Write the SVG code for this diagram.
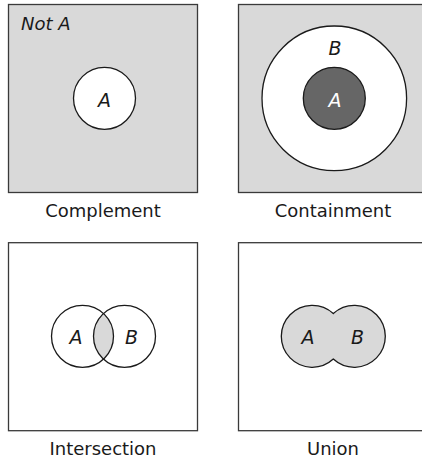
<svg xmlns="http://www.w3.org/2000/svg" width="422" height="463" viewBox="0 0 422 463">
<style>
.box{stroke:#3a3a3a;stroke-width:1.3}
.grey{fill:#d9d9d9}
.white{fill:#ffffff}
.c{stroke:#1a1a1a;stroke-width:1.3}
.lbl{font-family:"DejaVu Sans",sans-serif;font-size:18px;fill:#1a1a1a;text-anchor:middle}
.it{font-family:"DejaVu Sans",sans-serif;font-size:19px;font-style:italic;fill:#1a1a1a;text-anchor:middle}
</style>
<rect width="422" height="463" fill="#ffffff"/>
<g id="complement">
<rect class="box grey" x="8.5" y="4.5" width="189" height="188"/>
<text class="it" x="21" y="29.5" style="text-anchor:start;font-size:18px">Not A</text>
<circle class="c white" cx="104.5" cy="98.3" r="31"/>
<text class="it" x="104.5" y="106.5">A</text>
<text class="lbl" x="103" y="216.5">Complement</text>
</g>
<g id="containment">
<rect class="box grey" x="238.5" y="4.5" width="190" height="188"/>
<circle class="c white" cx="334.3" cy="98.3" r="72.3"/>
<text class="it" x="335" y="55">B</text>
<circle class="c" fill="#666666" cx="334.3" cy="98.3" r="31"/>
<text class="it" x="335" y="106.5" style="fill:#ffffff">A</text>
<text class="lbl" x="333" y="216.5">Containment</text>
</g>
<g id="intersection">
<rect class="box white" x="8.5" y="242.7" width="189" height="188"/>
<path class="grey" d="M103.5 313.5 A31 31 0 0 1 103.5 359.1 A31 31 0 0 1 103.5 313.5 Z"/>
<circle class="c" fill="none" cx="82.5" cy="336.3" r="31"/>
<circle class="c" fill="none" cx="124.5" cy="336.3" r="31"/>
<text class="it" x="76" y="344">A</text>
<text class="it" x="131.5" y="344">B</text>
<text class="lbl" x="103" y="455">Intersection</text>
</g>
<g id="union">
<rect class="box white" x="238.5" y="242.7" width="190" height="188"/>
<path class="c grey" d="M333.3 313.5 A31 31 0 1 0 333.3 359.1 A31 31 0 1 0 333.3 313.5 Z"/>
<text class="it" x="308" y="344">A</text>
<text class="it" x="357.5" y="344">B</text>
<text class="lbl" x="333" y="455">Union</text>
</g>
</svg>
